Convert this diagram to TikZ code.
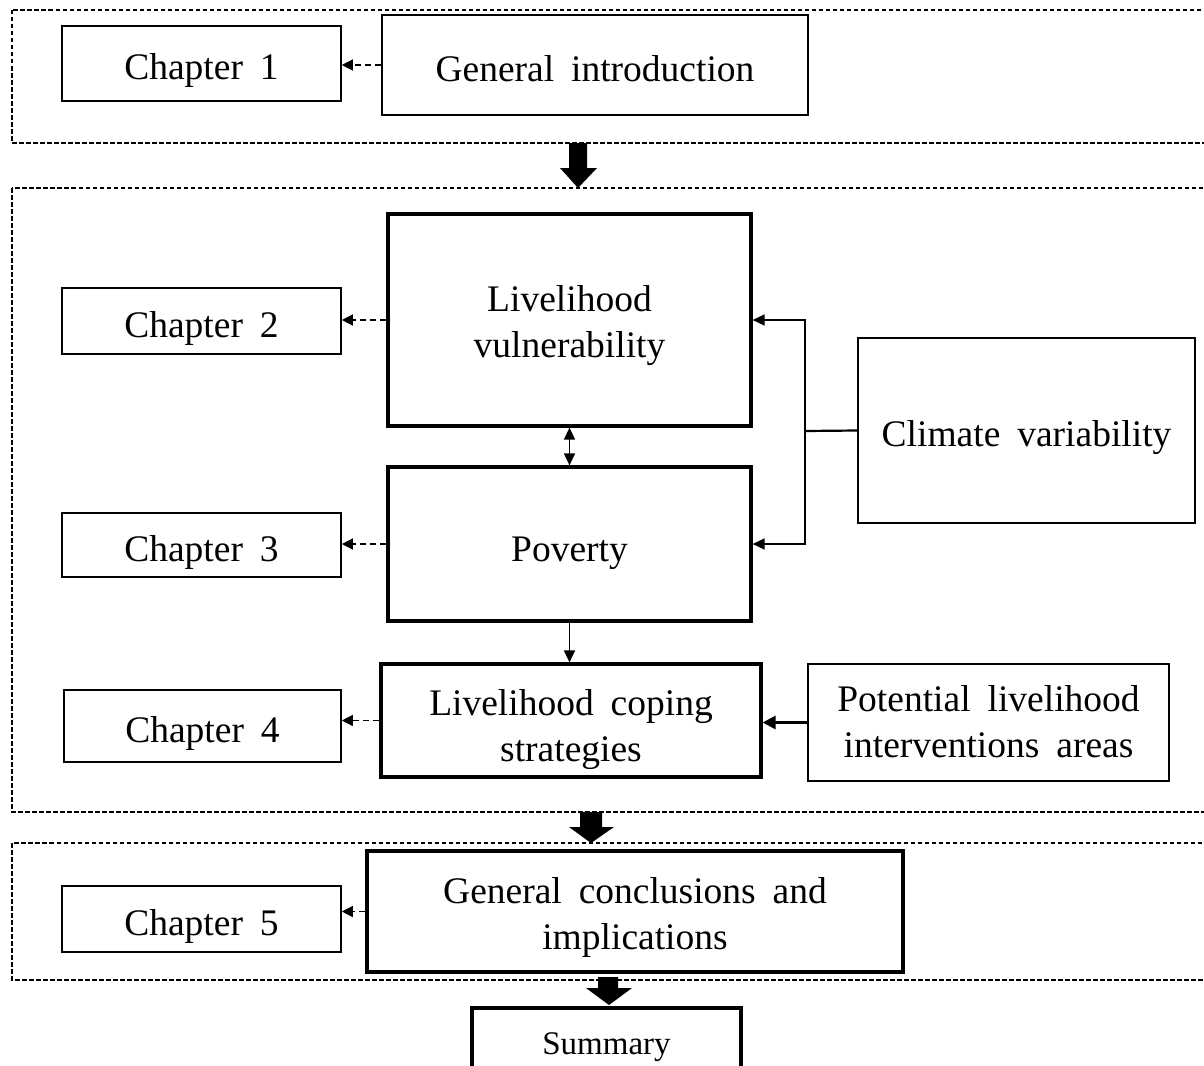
\documentclass[tikz,border=0pt]{standalone}
\usepackage{fontspec}
\setmainfont[WordSpace=1.8]{Liberation Serif}
\usetikzlibrary{arrows.meta}
\newcommand{\boxtxt}[2][7pt]{\raisebox{-#1}[\height][\depth]{\begin{tabular}{@{}c@{}}#2\end{tabular}}}
\begin{document}
\begin{tikzpicture}[x=1pt,y=-1pt,
  thinbox/.style={draw, line width=1.6pt, inner sep=0pt, font=\fontsize{37.5}{46}\selectfont},
  thickbox/.style={draw, line width=3.2pt, inner sep=0pt, font=\fontsize{37.5}{46}\selectfont},
  frame/.style={draw, line width=1.1pt, dash pattern=on 4.5pt off 2.5pt},
  dasharrow/.style={line width=1.3pt, dash pattern=on 6pt off 4pt, -{Triangle[length=11pt,width=11pt]}},
  conn/.style={line width=1.6pt, -{Triangle[length=12pt,width=11pt]}},
  blockarrow/.style={fill=black, draw=none}
]
\useasboundingbox (0,0) rectangle (1204,1065);
\clip (0,0) rectangle (1204,1065);
\fill[white] (0,0) rectangle (1204,1065);

% dashed frames
\draw[frame] (12,10) rectangle (1212,143);
\draw[frame] (12,188) rectangle (1212,812);
\draw[frame] (12,843) rectangle (1212,980);

% nodes
\node[thinbox, minimum width=279pt, minimum height=75pt] (ch1) at (201.5,63.5) {\boxtxt{Chapter 1}};
\node[thinbox, minimum width=426pt, minimum height=100pt] (gi) at (595,65) {\boxtxt{General introduction}};
\node[thinbox, minimum width=279pt, minimum height=66pt] (ch2) at (201.5,321) {\boxtxt{Chapter 2}};
\node[thickbox, minimum width=363pt, minimum height=212pt] (lv) at (569.5,320) {\boxtxt[5pt]{Livelihood\\vulnerability}};
\node[thickbox, minimum width=363pt, minimum height=154pt] (pov) at (569.5,544) {\boxtxt[8pt]{Poverty}};
\node[thinbox, minimum width=337pt, minimum height=185pt] (cv) at (1026.5,430.5) {\boxtxt{Climate variability}};
\node[thinbox, minimum width=279pt, minimum height=64pt] (ch3) at (201.5,545) {\boxtxt{Chapter 3}};
\node[thickbox, minimum width=380pt, minimum height=113pt] (lcs) at (571,720.5) {\boxtxt[9pt]{Livelihood coping\\strategies}};
\node[thinbox, minimum width=361pt, minimum height=117pt] (pli) at (988.5,722.5) {\boxtxt[3pt]{Potential livelihood\\interventions areas}};
\node[thinbox, minimum width=277pt, minimum height=72pt] (ch4) at (202.5,726) {\boxtxt{Chapter 4}};
\node[thinbox, minimum width=279pt, minimum height=66pt] (ch5) at (201.5,919) {\boxtxt{Chapter 5}};
\node[thickbox, minimum width=536pt, minimum height=121pt] (gc) at (635,911.5) {\boxtxt[6pt]{General conclusions and\\implications}};
\node[thickbox, minimum width=269pt, minimum height=70pt, font=\fontsize{33}{40}\selectfont] (sum) at (606.5,1043) {\boxtxt[3pt]{Summary}};

% dashed arrows to chapters
\draw[dasharrow] (gi.west) -- (ch1.east |- gi.west);
\draw[dasharrow] (lv.west) -- (ch2.east |- lv.west);
\draw[dasharrow] (pov.west) -- (ch3.east |- pov.west);
\draw[dasharrow] (lcs.west) -- (ch4.east |- lcs.west);
\draw[dasharrow] (gc.west) -- (ch5.east |- gc.west);

% connectors
\draw[line width=1.6pt, {Triangle[length=12pt,width=11pt]}-{Triangle[length=12pt,width=11pt]}] (lv.south) -- (pov.north);
\draw[conn] (pov.south) -- (pov.south |- lcs.north);
\coordinate (j) at (805,431);
\draw[line width=2.2pt] (cv.west) -- (j);
\draw[conn] (j) |- (lv.east);
\draw[conn] (j) |- (pov.east);
\draw[line width=3pt, -{Triangle[length=13pt,width=13pt]}] (pli.west) -- (pli.west -| lcs.east);

% block arrows
\fill[blockarrow] (569,143) -- (587,143) -- (587,168) -- (597,168) -- (578,188) -- (560,168) -- (569,168) -- cycle;
\fill[blockarrow] (580,812) -- (602,812) -- (602,827) -- (614,827) -- (591,843) -- (569,827) -- (580,827) -- cycle;
\fill[blockarrow] (598,977) -- (618,977) -- (618,988) -- (632,988) -- (609,1005) -- (586,988) -- (598,988) -- cycle;
\end{tikzpicture}
\end{document}
